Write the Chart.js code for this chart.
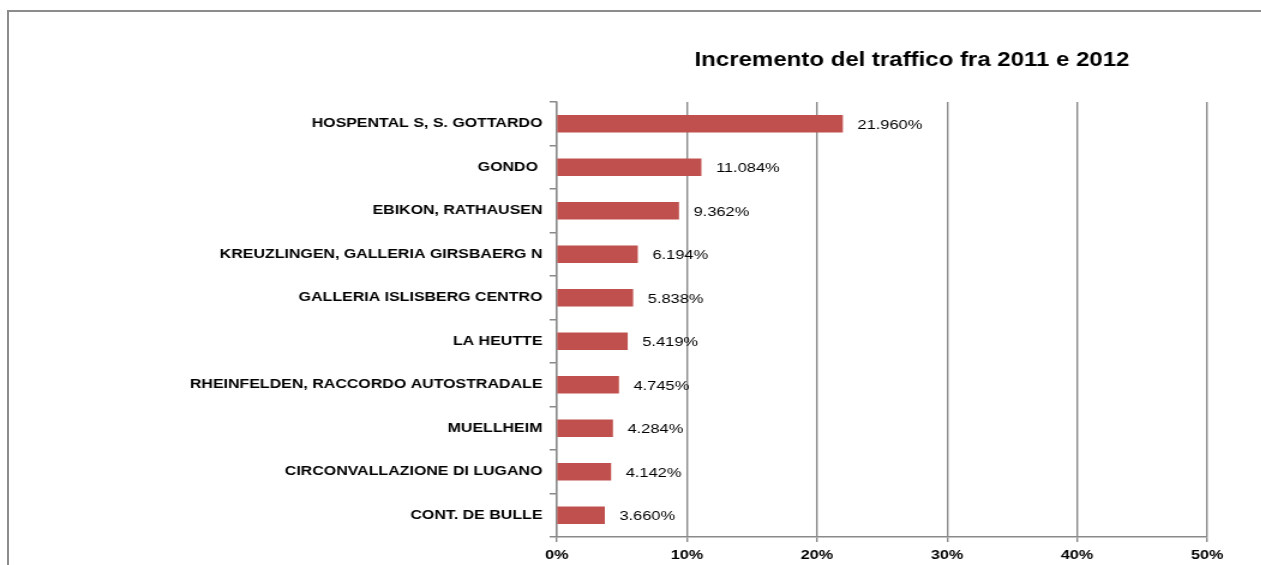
<!DOCTYPE html>
<html lang="it">
<head>
<meta charset="UTF-8">
<title>Incremento del traffico fra 2011 e 2012</title>
<script src="https://cdn.jsdelivr.net/npm/chart.js"></script>
<style>
    body { margin: 0; background: #ffffff; overflow: hidden; }
    #frame { position: absolute; left: 7px; top: 10px; width: 1400px; height: 700px; border: 2px solid #8c8c8c; pointer-events: none; }
    /* the original picture is stretched sideways, so the canvas is too */
    #wrap { position: absolute; left: 0; top: 0; width: 1051px; height: 565px; transform: scaleX(1.2); transform-origin: 0 0; }
</style>
</head>
<body>
<div id="frame"></div>
<div id="wrap"><canvas id="myChart" width="1051" height="565"></canvas></div>
<script>
    // data
    const titleText = 'Incremento del traffico fra 2011 e 2012';
    const stations = [
        'HOSPENTAL S, S. GOTTARDO',
        'GONDO ',
        'EBIKON, RATHAUSEN',
        'KREUZLINGEN, GALLERIA GIRSBAERG N',
        'GALLERIA ISLISBERG CENTRO',
        'LA HEUTTE',
        'RHEINFELDEN, RACCORDO AUTOSTRADALE',
        'MUELLHEIM',
        'CIRCONVALLAZIONE DI LUGANO',
        'CONT. DE BULLE'
    ];
    const increments = [ 21.960, 11.084, 9.362, 6.194, 5.838, 5.419, 4.745, 4.284, 4.142, 3.660 ];
    const xTicks = [ 0, 10, 20, 30, 40, 50 ];

    const gridColor = '#8a8a8a';
    const fontFamily = '"Liberation Sans", Arial, sans-serif';

    // values next to the bars
    const valueLabels = {
        id: 'valueLabels',
        afterDatasetsDraw( chart ) {
            const ctx = chart.ctx;
            const meta = chart.getDatasetMeta( 0 );
            ctx.save();
            ctx.font = '13.7px ' + fontFamily;
            ctx.fillStyle = '#000000';
            ctx.textAlign = 'left';
            ctx.textBaseline = 'middle';
            meta.data.forEach( ( bar, i ) => {
                ctx.fillText( increments[ i ].toFixed( 3 ) + '%', bar.x + 12.5, bar.y + 1 );
            } );
            ctx.restore();
        }
    };

    // title sits over the right part of the plot, as in the original
    const titleDraw = {
        id: 'titleDraw',
        afterDraw( chart ) {
            const ctx = chart.ctx;
            ctx.save();
            ctx.font = 'bold 20px ' + fontFamily;
            ctx.fillStyle = '#000000';
            ctx.textAlign = 'center';
            ctx.textBaseline = 'middle';
            ctx.fillText( titleText, 760, 60 );
            ctx.restore();
        }
    };

    new Chart( document.getElementById( 'myChart' ), {
        type: 'bar',
        data: {
            labels: stations,
            datasets: [ {
                data: increments,
                backgroundColor: '#c0504d',
                borderWidth: 0,
                barThickness: 17
            } ]
        },
        options: {
            indexAxis: 'y',
            responsive: false,
            animation: false,
            layout: { padding: { top: 102, right: 45, left: 0, bottom: 0 } },
            plugins: {
                legend: { display: false },
                tooltip: { enabled: false }
            },
            scales: {
                x: {
                    type: 'linear',
                    min: 0,
                    max: 50,
                    afterBuildTicks: ( scale ) => { scale.ticks = xTicks.map( v => ( { value: v } ) ); },
                    afterFit: ( scale ) => { scale.height = 28; },
                    ticks: {
                        callback: v => v + '%',
                        color: '#000000',
                        padding: 5,
                        maxRotation: 0,
                        font: { family: fontFamily, size: 13.5, weight: 'bold' }
                    },
                    grid: { color: gridColor, lineWidth: 1.4, tickLength: 5 },
                    border: { color: gridColor, width: 1.5 }
                },
                y: {
                    afterFit: ( scale ) => { scale.width = 464; },
                    ticks: {
                        color: '#000000',
                        padding: 6,
                        font: { family: fontFamily, size: 13.3, weight: 'bold' }
                    },
                    grid: { drawOnChartArea: false, color: gridColor, lineWidth: 1.5, tickLength: 6, offset: true },
                    border: { color: gridColor, width: 1.4 }
                }
            }
        },
        plugins: [ valueLabels, titleDraw ]
    } );
</script>
</body>
</html>
